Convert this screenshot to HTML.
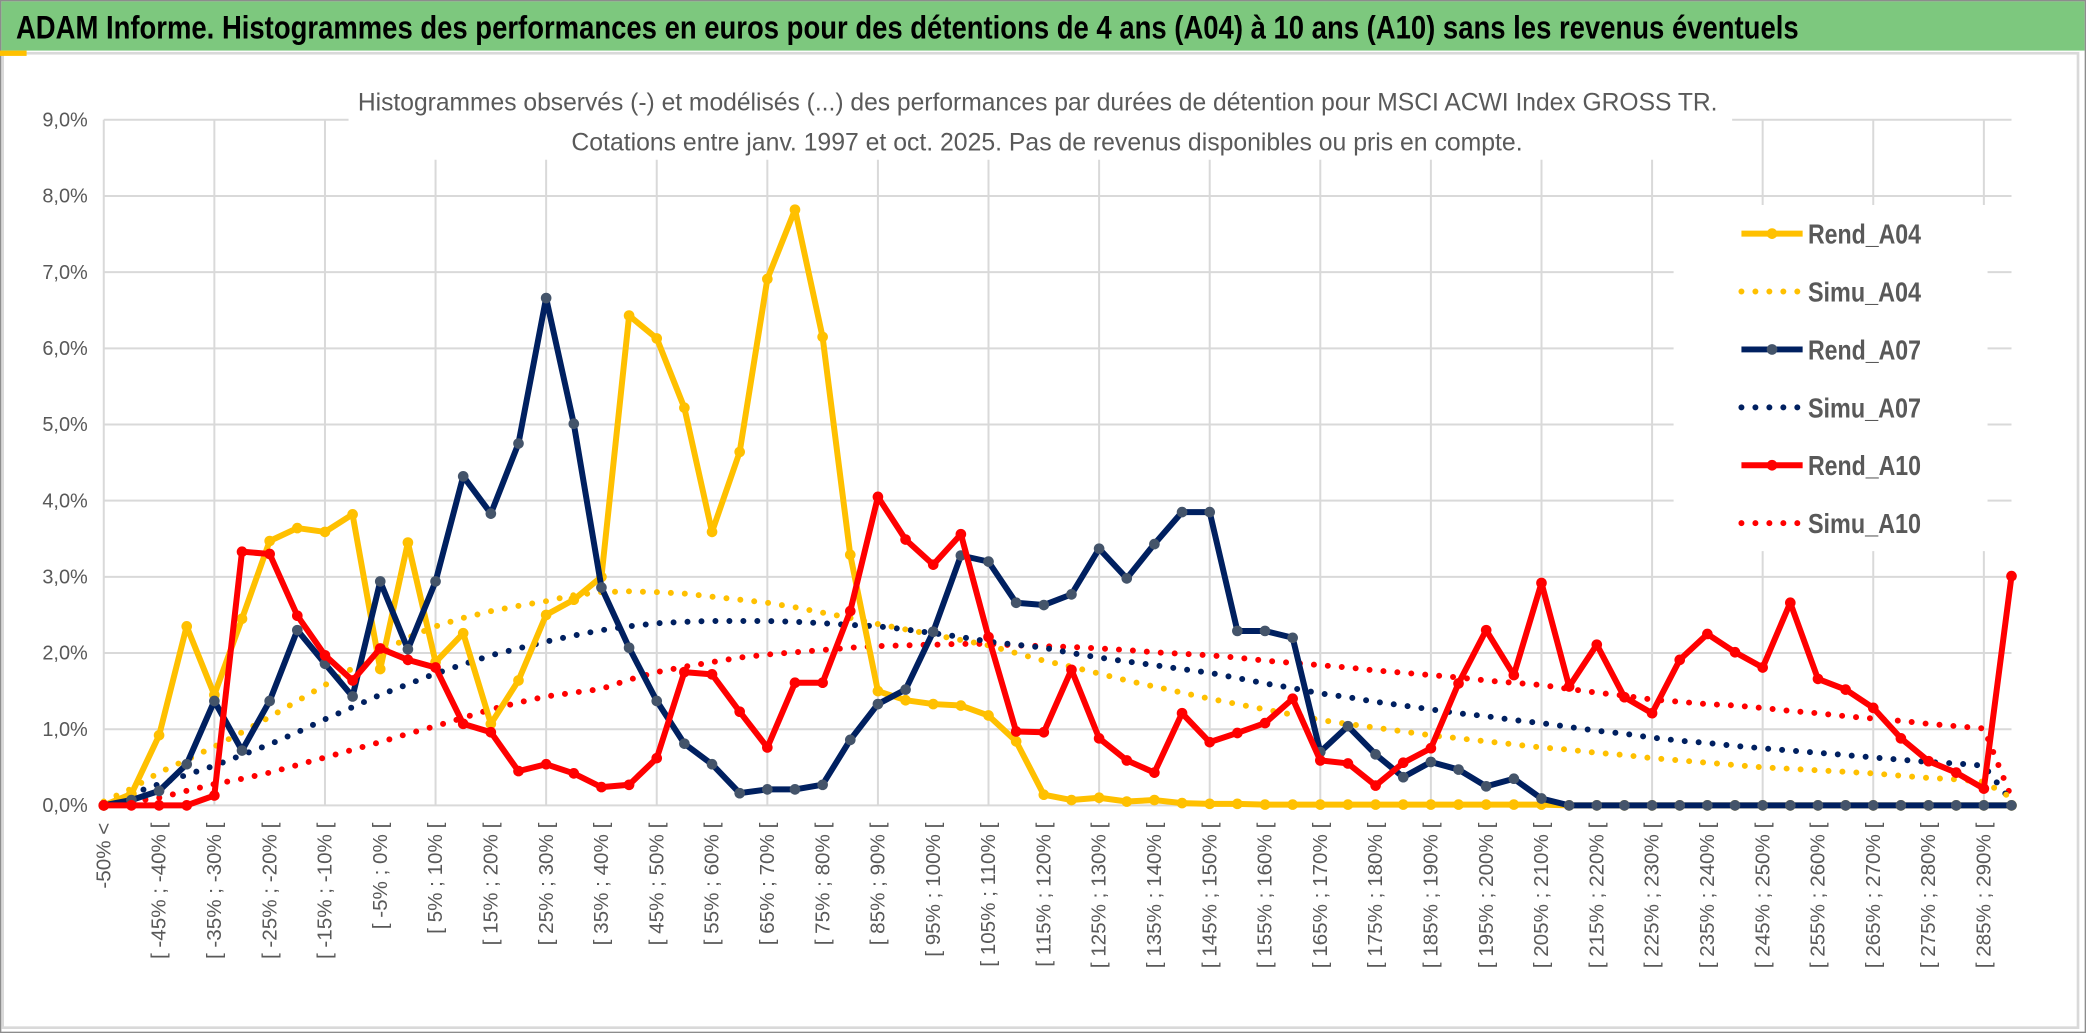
<!DOCTYPE html>
<html><head><meta charset="utf-8">
<style>
html,body{margin:0;padding:0;background:#fff;}
svg{display:block;}
text{font-family:"Liberation Sans Narrow","Liberation Sans",sans-serif;}
</style></head>
<body>
<svg id="chart" width="2086" height="1033" viewBox="0 0 1568 776" preserveAspectRatio="none" xmlns="http://www.w3.org/2000/svg">
  <rect x="0" y="0" width="1568" height="776" fill="#fff"/>
  <rect x="1" y="1" width="1566" height="37" fill="#7DC87E"/>
  <text x="12" y="29" font-size="24" font-weight="bold" fill="#000" textLength="1340" lengthAdjust="spacingAndGlyphs">ADAM Informe. Histogrammes des performances en euros pour des détentions de 4 ans (A04) à 10 ans (A10) sans les revenus éventuels</text>
  <rect x="0.5" y="0.5" width="1567" height="775" fill="none" stroke="#8c8c8c" stroke-width="1"/>
  <rect x="2" y="40" width="1560" height="732" fill="none" stroke="#d9d9d9" stroke-width="2"/>
  <rect x="0" y="38" width="20" height="4" fill="#FFC000"/>
  <g id="grid"></g>
  <g id="yaxis"></g>
  <g id="xaxis"></g>
  <rect x="262" y="58" width="1040" height="62" fill="#fff"/>
  <text x="780" y="83" font-size="19" fill="#595959" text-anchor="middle" textLength="1022" lengthAdjust="spacingAndGlyphs">Histogrammes observés (-) et modélisés (...) des performances par durées de détention pour MSCI ACWI Index GROSS TR.</text>
  <text x="787" y="113" font-size="19" fill="#595959" text-anchor="middle" textLength="715" lengthAdjust="spacingAndGlyphs">Cotations entre janv. 1997 et oct. 2025. Pas de revenus disponibles ou pris en compte.</text>
  <g id="series"></g>
  <g id="legend"></g>
</svg>
<script>
const categories = [];
categories.push("-50% <");
for (let k = 1; k < 70; k++) { const lo = -50 + 5 * (k - 1); categories.push("[ " + lo + "% ; " + (lo + 5) + "% ["); }

const rendA04 = [0,0.15,0.92,2.35,1.45,2.45,3.47,3.64,3.59,3.82,1.79,3.45,1.88,2.26,1.07,1.64,2.5,2.7,3.0,6.43,6.13,5.22,3.59,4.64,6.91,7.82,6.15,3.29,1.5,1.38,1.33,1.31,1.18,0.84,0.14,0.07,0.1,0.05,0.07,0.03,0.02,0.02,0.01,0.01,0.01,0.01,0.01,0.01,0.01,0.01,0.01,0.01,0.01,0,0,0,0,0,0,0,0,0,0,0,0,0,0,0,0,0];
const simuA04 = [0.05,0.22,0.43,0.6,0.77,0.96,1.16,1.37,1.58,1.8,2.0,2.2,2.35,2.46,2.55,2.62,2.68,2.76,2.8,2.81,2.8,2.78,2.74,2.7,2.66,2.6,2.53,2.46,2.38,2.31,2.24,2.17,2.1,2.0,1.9,1.82,1.73,1.64,1.56,1.48,1.4,1.33,1.26,1.19,1.12,1.07,1.02,0.97,0.92,0.88,0.84,0.8,0.76,0.73,0.69,0.66,0.62,0.59,0.56,0.53,0.5,0.48,0.46,0.44,0.42,0.39,0.36,0.34,0.31,0.1];
const rendA07 = [0,0.07,0.19,0.54,1.37,0.72,1.37,2.3,1.86,1.43,2.94,2.05,2.94,4.32,3.83,4.75,6.66,5.01,2.86,2.07,1.37,0.81,0.54,0.16,0.21,0.21,0.27,0.86,1.33,1.52,2.28,3.28,3.2,2.66,2.63,2.77,3.37,2.98,3.43,3.85,3.85,2.29,2.29,2.2,0.7,1.04,0.67,0.37,0.57,0.47,0.25,0.35,0.09,0,0,0,0,0,0,0,0,0,0,0,0,0,0,0,0,0];
const simuA07 = [0.03,0.15,0.28,0.4,0.52,0.66,0.8,0.96,1.13,1.29,1.45,1.59,1.73,1.85,1.97,2.06,2.15,2.23,2.3,2.35,2.39,2.41,2.42,2.42,2.42,2.41,2.39,2.37,2.35,2.31,2.26,2.21,2.15,2.11,2.07,2.0,1.94,1.89,1.84,1.79,1.74,1.67,1.6,1.54,1.47,1.42,1.36,1.31,1.26,1.21,1.17,1.12,1.08,1.03,0.98,0.94,0.89,0.85,0.82,0.78,0.75,0.72,0.69,0.66,0.63,0.6,0.57,0.55,0.52,0.05];
const rendA10 = [0,0,0,0,0.13,3.33,3.3,2.49,1.97,1.64,2.06,1.91,1.81,1.07,0.96,0.45,0.54,0.42,0.24,0.27,0.62,1.75,1.72,1.23,0.76,1.61,1.61,2.55,4.05,3.49,3.16,3.56,2.21,0.97,0.96,1.78,0.88,0.59,0.43,1.21,0.83,0.95,1.08,1.4,0.59,0.55,0.26,0.56,0.75,1.6,2.3,1.71,2.92,1.56,2.11,1.42,1.21,1.91,2.25,2.01,1.81,2.66,1.66,1.52,1.28,0.88,0.58,0.43,0.22,3.01];
const simuA10 = [0.02,0.05,0.1,0.19,0.28,0.35,0.43,0.53,0.63,0.73,0.83,0.94,1.04,1.15,1.26,1.35,1.43,1.48,1.53,1.65,1.75,1.82,1.88,1.94,1.98,2.01,2.04,2.07,2.09,2.1,2.11,2.12,2.12,2.1,2.09,2.08,2.06,2.04,2.01,1.99,1.97,1.94,1.9,1.87,1.84,1.81,1.77,1.74,1.71,1.68,1.64,1.61,1.58,1.53,1.48,1.44,1.39,1.36,1.33,1.31,1.28,1.24,1.21,1.17,1.14,1.11,1.07,1.04,1.01,0.1];
const yTicks = [0,1,2,3,4,5,6,7,8,9];
const yTickLabels = ["0,0%","1,0%","2,0%","3,0%","4,0%","5,0%","6,0%","7,0%","8,0%","9,0%"];
const legendLabels = ["Rend_A04","Simu_A04","Rend_A07","Simu_A07","Rend_A10","Simu_A10"];

const NS = "http://www.w3.org/2000/svg";
const X0 = 78, X1 = 1512, Y0 = 605, Y9 = 90;
function xs(i) { return X0 + (X1 - X0) * i / (categories.length - 1); }
function ys(v) { return Y0 - (Y0 - Y9) * v / 9; }
function mk(tag, attrs, parent) { const e = document.createElementNS(NS, tag); for (const k in attrs) e.setAttribute(k, attrs[k]); parent.appendChild(e); return e; }

const grid = document.getElementById('grid');
yTicks.forEach(function (t) {
  const l = mk('line', {x1: X0, x2: X1, y1: ys(t), y2: ys(t), stroke: '#d9d9d9', 'stroke-width': 1.5}, grid);
  
  
});
for (let i = 0; i < categories.length; i += 4) {
  const l = mk('line', {x1: xs(i), x2: xs(i), y1: Y9, y2: Y0, stroke: '#d9d9d9', 'stroke-width': 1.5}, grid);
  
  
}
const yaxis = document.getElementById('yaxis');
yTicks.forEach(function (t, k) {
  const tx = mk('text', {x: 66, y: ys(t) + 5, 'font-size': 15, fill: '#595959', 'text-anchor': 'end'}, yaxis);
  tx.textContent = yTickLabels[k];
  
  
});
const xaxis = document.getElementById('xaxis');
for (let i = 0; i < categories.length; i += 2) {
  const x = xs(i) + 5, y = 618;
  const tx = mk('text', {x: x, y: y, 'font-size': 15.5, fill: '#595959', 'text-anchor': 'end', transform: 'rotate(-90 ' + x + ' ' + y + ')'}, xaxis);
  tx.textContent = categories[i];
  
  
}

const series = document.getElementById('series');
function pts(arr) { return arr.map(function (v, i) { return xs(i).toFixed(1) + ',' + ys(v).toFixed(1); }).join(' '); }
function dotted(arr, color, name) {
  const p = mk('polyline', {points: pts(arr), fill: 'none', stroke: color, 'stroke-width': 4.5, 'stroke-linecap': 'round', 'stroke-dasharray': '0 10.5'}, series);
  
  
}
function solid(arr, color, mcolor, name) {
  const g = mk('g', {}, series);
  
  
  mk('polyline', {points: pts(arr), fill: 'none', stroke: color, 'stroke-width': 4.5, 'stroke-linejoin': 'round'}, g);
  arr.forEach(function (v, i) {
    const c = mk('circle', {cx: xs(i), cy: ys(v), r: 4, fill: mcolor}, g);
    
    
  });
}
dotted(simuA10, '#FF0000', 'simu-a10-line');
dotted(simuA07, '#002060', 'simu-a07-line');
dotted(simuA04, '#FFC000', 'simu-a04-line');
solid(rendA04, '#FFC000', '#FFC000', 'rend-a04-line');
solid(rendA07, '#002060', '#44546A', 'rend-a07-line');
solid(rendA10, '#FF0000', '#FF0000', 'rend-a10-line');

const legend = document.getElementById('legend');
const lg = mk('rect', {x: 1258, y: 154, width: 236, height: 260, fill: '#fff'}, legend);


const lcol = ['#FFC000','#FFC000','#002060','#002060','#FF0000','#FF0000'];
const mcol = ['#FFC000','#FFC000','#44546A','#44546A','#FF0000','#FF0000'];
legendLabels.forEach(function (lab, k) {
  const y = 175.5 + k * 43.5;
  const g = mk('g', {}, legend);
  
  
  if (k % 2 === 0) {
    mk('line', {x1: 1309, x2: 1355, y1: y, y2: y, stroke: lcol[k], 'stroke-width': 4.5}, g);
    mk('circle', {cx: 1332, cy: y, r: 4, fill: mcol[k]}, g);
  } else {
    mk('line', {x1: 1309, x2: 1356, y1: y, y2: y, stroke: lcol[k], 'stroke-width': 4.5, 'stroke-linecap': 'round', 'stroke-dasharray': '0 10.5'}, g);
  }
  const t = mk('text', {x: 1359, y: y + 7.5, 'font-size': 21, fill: '#595959', 'font-weight': 'bold', textLength: 85, lengthAdjust: 'spacingAndGlyphs'}, g);
  t.textContent = lab;
});
</script>
</body></html>
